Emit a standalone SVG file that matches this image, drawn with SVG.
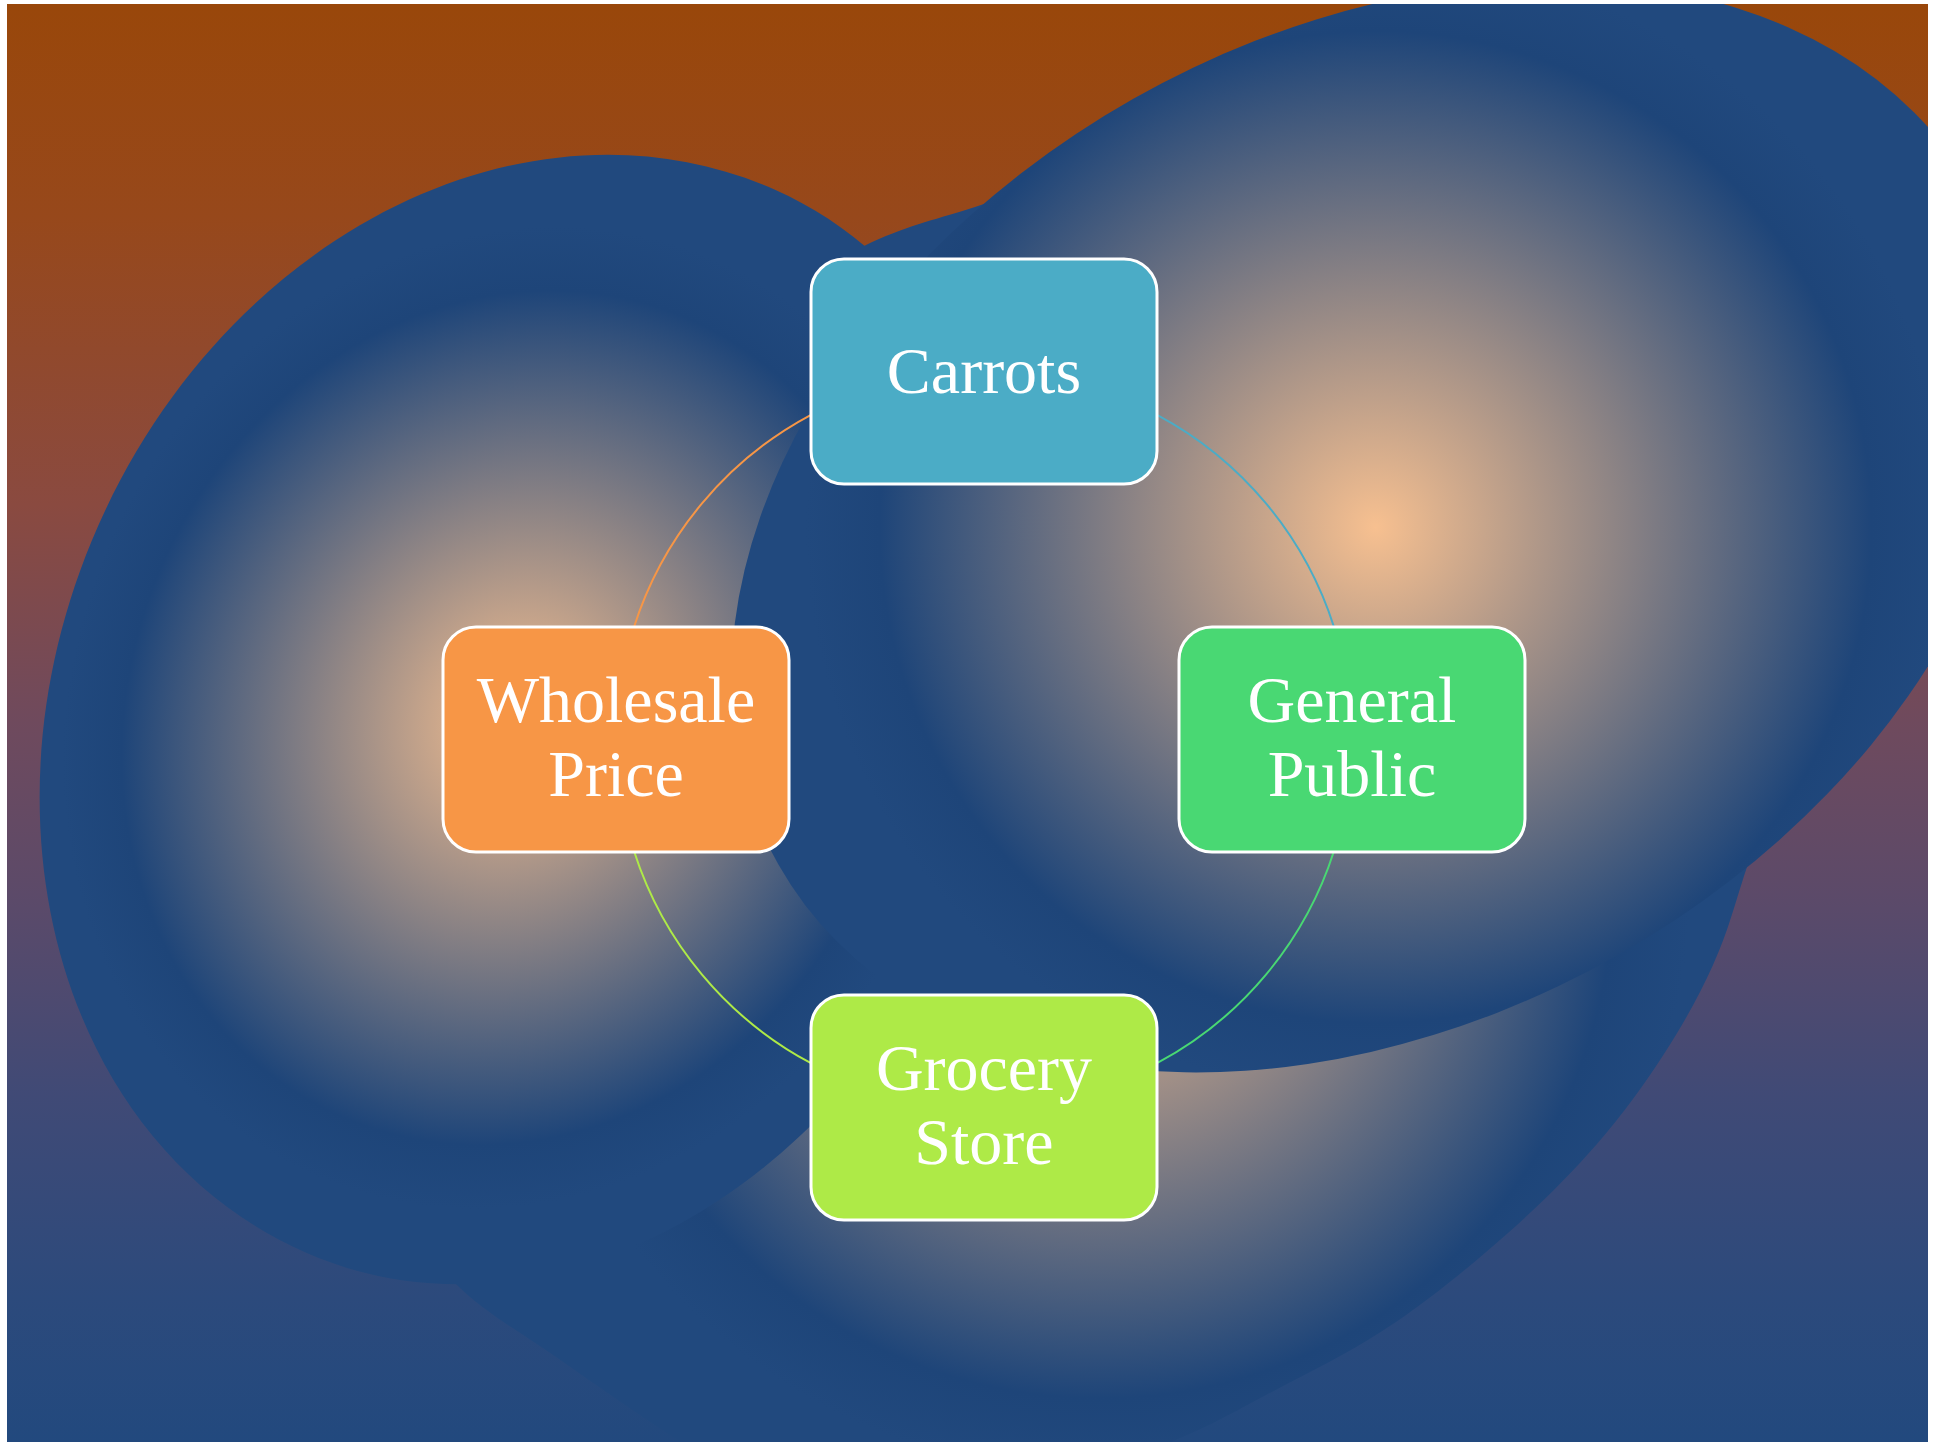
<svg xmlns="http://www.w3.org/2000/svg" width="1940" height="1442" viewBox="0 0 1940 1442">
  <defs>
    <style>
      .node rect { stroke: #ffffff; stroke-width: 3; }
      .node text { font-family: "Liberation Serif", "Times New Roman", serif; font-size: 66px; fill: #ffffff; text-anchor: middle; }
      .link { fill: none; stroke-width: 2; }
    </style>
    <linearGradient id="bgGrad" gradientUnits="userSpaceOnUse" x1="0" y1="0" x2="0" y2="1442">
      <stop offset="0" stop-color="#99470a"/>
      <stop offset="0.15" stop-color="#97481b"/>
      <stop offset="0.35" stop-color="#8a4a40"/>
      <stop offset="0.5" stop-color="#6f4a5d"/>
      <stop offset="0.62" stop-color="#5c4a69"/>
      <stop offset="0.76" stop-color="#404a76"/>
      <stop offset="0.9" stop-color="#2c4a7c"/>
      <stop offset="1" stop-color="#22497e"/>
    </linearGradient>
    <!-- glow of the left blob, in the blob's own rotated frame -->
    <radialGradient id="glowA" gradientUnits="userSpaceOnUse" cx="-24" cy="7" r="500"
      gradientTransform="translate(-24 7) scale(0.885 1) translate(24 -7)">
      <stop offset="0" stop-color="#f7c090"/>
      <stop offset="0.87" stop-color="#1e4579"/>
      <stop offset="1" stop-color="#21497e"/>
    </radialGradient>
    <!-- glow of the right blob, in the blob's own rotated frame -->
    <radialGradient id="glowB" gradientUnits="userSpaceOnUse" cx="0" cy="0" r="570">
      <stop offset="0" stop-color="#f7c090"/>
      <stop offset="0.87" stop-color="#1e4579"/>
      <stop offset="1" stop-color="#21497e"/>
    </radialGradient>
    <radialGradient id="glowC" gradientUnits="userSpaceOnUse" cx="1100" cy="885" r="590">
      <stop offset="0" stop-color="#f7c090"/>
      <stop offset="0.87" stop-color="#1e4579"/>
      <stop offset="1" stop-color="#21497e"/>
    </radialGradient>
    <clipPath id="frame">
      <rect x="7" y="4" width="1921" height="1438"/>
    </clipPath>
  </defs>

  <!-- backdrop -->
  <rect x="7" y="4" width="1921" height="1438" fill="url(#bgGrad)"/>

  <!-- glowing blobs behind the cycle -->
  <g id="blobs" clip-path="url(#frame)">
    <path id="blob-bottom" fill="url(#glowC)" d="M864,246 C906.5,225.5 927.3,222.2 975,207 C1022.7,191.8 1079.2,164.5 1150,155 C1220.8,145.5 1321.7,125.8 1400,150 C1478.3,174.2 1560,238.3 1620,300 C1680,361.7 1731.7,450 1760,520 C1788.3,590 1792.7,660.7 1790,720 C1787.3,779.3 1756.8,835.2 1744,876 C1731.2,916.8 1726.3,935.3 1713,965 C1699.7,994.7 1683.3,1024.2 1664,1054 C1644.7,1083.8 1623,1114.2 1597,1144 C1571,1173.8 1541.5,1203.3 1508,1233 C1474.5,1262.7 1433.2,1296.7 1396,1322 C1358.8,1347.3 1326,1363.7 1285,1385 C1244,1406.3 1205.8,1430 1150,1450 C1094.2,1470 1015,1498.3 950,1505 C885,1511.7 806.7,1501.7 760,1490 C713.3,1478.3 703.5,1456.8 670,1435 C636.5,1413.2 594.7,1384.2 559,1359 C523.3,1333.8 485.8,1313.8 456,1284 C426.2,1254.2 394.3,1227.3 380,1180 C365.7,1132.7 361.7,1071.7 370,1000 C378.3,928.3 398.3,833.3 430,750 C461.7,666.7 511.7,570 560,500 C608.3,430 669.3,372.3 720,330 C770.7,287.7 821.5,266.5 864,246 Z"/>
    <path id="blob-left" fill="url(#glowA)" transform="translate(540 721) rotate(23.8)"
      d="M460,0 C460,320.9 254.1,581 0,581 C-266.8,581 -483,320.9 -483,0 C-483,-320.9 -266.8,-581 0,-581 C254.1,-581 460,-320.9 460,0 Z"/>
    <ellipse id="blob-right" fill="url(#glowB)" transform="translate(1375.6 527) rotate(-29.5)" cx="0" cy="0" rx="686" ry="492"/>
  </g>

  <!-- cycle arcs, coloured by the node they leave -->
  <g id="connectors">
    <path class="link" stroke="#4bacc6" d="M1157,414.8 A367.5,367.5 0 0 1 1334,627"/>
    <path class="link" stroke="#49d873" d="M1334,851 A367.5,367.5 0 0 1 1157,1063.2"/>
    <path class="link" stroke="#aeea47" d="M811,1063.2 A367.5,367.5 0 0 1 634,851"/>
    <path class="link" stroke="#f79646" d="M634,627 A367.5,367.5 0 0 1 811,414.8"/>
  </g>

  <g id="node-carrots" class="node">
    <rect x="811" y="259" width="346" height="225" rx="33" ry="33" fill="#4bacc6"/>
    <text x="984" y="393">Carrots</text>
  </g>
  <g id="node-general-public" class="node">
    <rect x="1179" y="627" width="346" height="225" rx="33" ry="33" fill="#49d873"/>
    <text x="1352" y="722">General</text>
    <text x="1352" y="796">Public</text>
  </g>
  <g id="node-grocery-store" class="node">
    <rect x="811" y="995" width="346" height="225" rx="33" ry="33" fill="#aeea47"/>
    <text x="984" y="1090">Grocery</text>
    <text x="984" y="1164">Store</text>
  </g>
  <g id="node-wholesale-price" class="node">
    <rect x="443" y="627" width="346" height="225" rx="33" ry="33" fill="#f79646"/>
    <text x="616" y="722">Wholesale</text>
    <text x="616" y="796">Price</text>
  </g>
</svg>
